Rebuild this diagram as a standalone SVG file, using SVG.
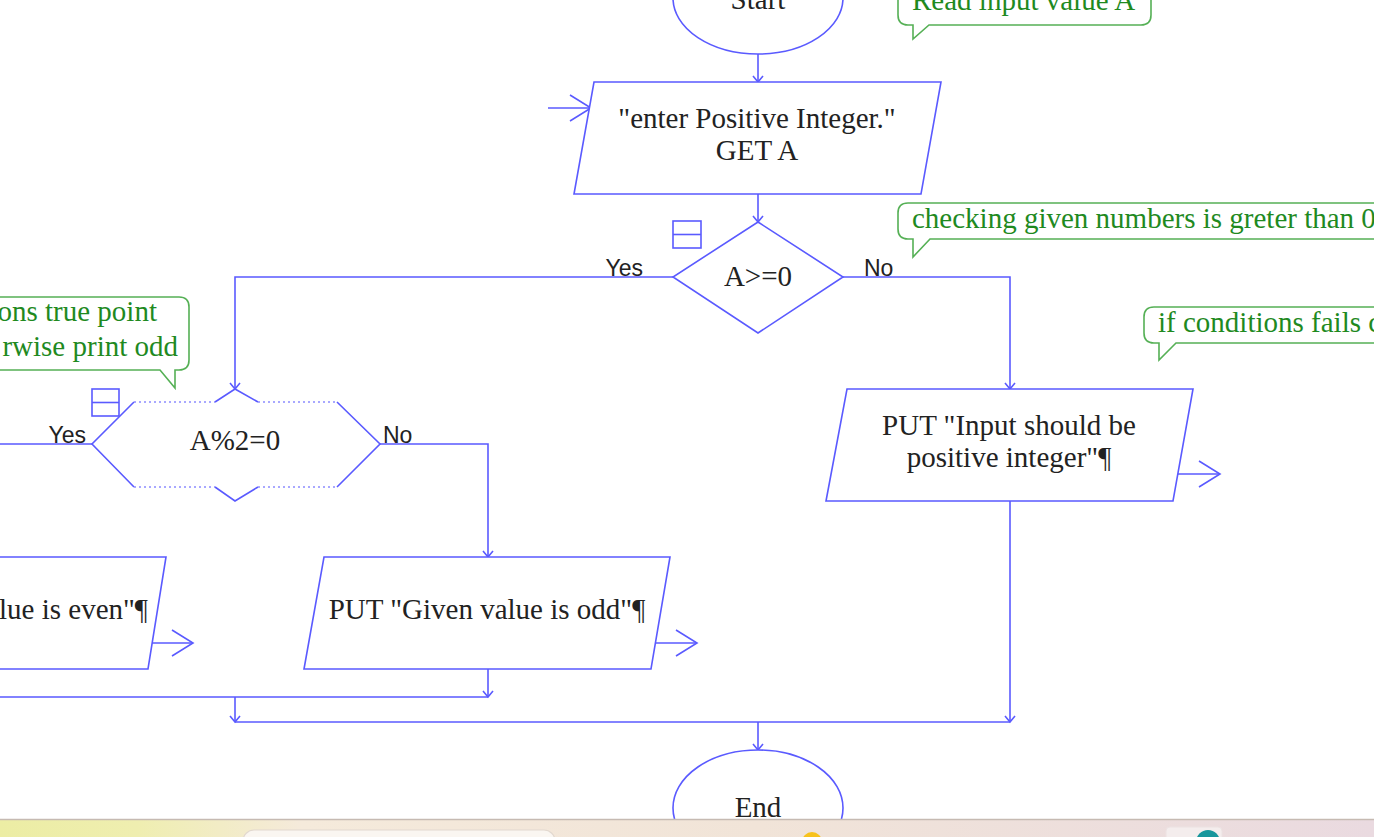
<svg xmlns="http://www.w3.org/2000/svg" width="1374" height="837" viewBox="0 0 1374 837">
<defs>
<style>
.ln{fill:none;stroke:#5a5aff;stroke-width:1.6}
.sh{fill:#fff;stroke:#5a5aff;stroke-width:1.6}
.dot{fill:none;stroke:#8c8cff;stroke-width:1.4;stroke-dasharray:2 3}
.t{font-family:"Liberation Serif","Times New Roman",serif;font-size:29px;fill:#222}
.lb{font-family:"Liberation Sans",Arial,sans-serif;font-size:23px;fill:#222}
.ct{font-family:"Liberation Serif","Times New Roman",serif;font-size:29px;fill:#1f8a1f}
.cb{fill:#fff;stroke:#55b055;stroke-width:1.6}
</style>
<marker id="ah" markerUnits="userSpaceOnUse" markerWidth="16" markerHeight="16" refX="8" refY="8" orient="auto" overflow="visible">
<path d="M2,3 L8,8 L2,13" fill="none" stroke="#5a5aff" stroke-width="1.6"/>
</marker>
<marker id="big" markerUnits="userSpaceOnUse" markerWidth="30" markerHeight="30" refX="24" refY="15" orient="auto" overflow="visible">
<path d="M3,2 L24,15 L3,28" fill="none" stroke="#5a5aff" stroke-width="1.6"/>
</marker>
<linearGradient id="tb" x1="0" y1="0" x2="1" y2="0">
<stop offset="0" stop-color="#eceda4"/>
<stop offset="0.1" stop-color="#efeeb0"/>
<stop offset="0.22" stop-color="#f5eadb"/>
<stop offset="0.55" stop-color="#f1e4d8"/>
<stop offset="1" stop-color="#eadae0"/>
</linearGradient>
</defs>
<rect width="1374" height="837" fill="#fff"/>

<g id="connectors">
<path class="ln" d="M758,54 V82" marker-end="url(#ah)"/>
<path class="ln" d="M758,194 V222" marker-end="url(#ah)"/>
<path class="ln" d="M673,277 H235 V389" marker-end="url(#ah)"/>
<path class="ln" d="M843,277 H1010 V389" marker-end="url(#ah)"/>
<path class="ln" d="M92,444 H-17 V557" marker-end="url(#ah)"/>
<path class="ln" d="M380,444 H488 V557" marker-end="url(#ah)"/>
<path class="ln" d="M488,669 V697" marker-end="url(#ah)"/>
<path class="ln" d="M-17,669 V697 H488"/>
<path class="ln" d="M235,697 V722" marker-end="url(#ah)"/>
<path class="ln" d="M1010,501 V722" marker-end="url(#ah)"/>
<path class="ln" d="M235,722 H1010"/>
<path class="ln" d="M758,722 V750" marker-end="url(#ah)"/>
<path class="ln" d="M548,108 H591" marker-end="url(#big)"/>
<path class="ln" d="M151,643 H193" marker-end="url(#big)"/>
<path class="ln" d="M655,643 H697" marker-end="url(#big)"/>
<path class="ln" d="M1175,474 H1220" marker-end="url(#big)"/>
<text class="lb" x="643" y="276" text-anchor="end">Yes</text>
<text class="lb" x="864" y="276">No</text>
<text class="lb" x="86" y="443" text-anchor="end">Yes</text>
<text class="lb" x="383" y="443">No</text>
</g>

<g id="start">
<ellipse class="sh" cx="758" cy="-2" rx="85" ry="56"/>
<text class="t" x="758" y="9" text-anchor="middle">Start</text>
</g>

<g id="input">
<polygon class="sh" points="594,82 941,82 921,194 574,194"/>
<text class="t" x="757" y="128" text-anchor="middle">"enter Positive Integer."</text>
<text class="t" x="757" y="160" text-anchor="middle">GET A</text>
</g>

<g id="decision1">
<polygon class="sh" points="758,222 843,277 758,333 673,277"/>
<text class="t" x="758" y="286" text-anchor="middle">A&gt;=0</text>
<rect class="ln" x="673" y="221" width="28" height="27"/>
<line class="ln" x1="673" y1="234.5" x2="701" y2="234.5"/>
</g>

<g id="decision2">
<polygon fill="#fff" points="92,444 134,402 337,402 380,444 337,487 134,487"/>
<path class="ln" d="M134,402 L92,444 L134,487 M215,402 L235,389 L258,402 M337,402 L380,444 L337,487 M215,487 L235,501 L258,487"/>
<path class="dot" d="M134,402 H215 M258,402 H337 M134,487 H215 M258,487 H337"/>
<text class="t" x="235" y="450" text-anchor="middle">A%2=0</text>
<rect class="ln" x="92" y="389" width="27" height="27"/>
<line class="ln" x1="92" y1="402.5" x2="119" y2="402.5"/>
</g>

<g id="even">
<polygon class="sh" points="-180,557 166,557 148,669 -199,669"/>
<text class="t" x="148" y="619" text-anchor="end">PUT "Given value is even"¶</text>
</g>

<g id="odd">
<polygon class="sh" points="324,557 670,557 651,669 304,669"/>
<text class="t" x="487" y="619" text-anchor="middle">PUT "Given value is odd"¶</text>
</g>

<g id="invalid">
<polygon class="sh" points="847,389 1193,389 1173,501 826,501"/>
<text class="t" x="1009" y="435" text-anchor="middle">PUT "Input should be</text>
<text class="t" x="1009" y="467" text-anchor="middle">positive integer"¶</text>
</g>

<g id="end">
<ellipse class="sh" cx="758" cy="808" rx="85" ry="58"/>
<text class="t" x="758" y="817" text-anchor="middle">End</text>
</g>

<g id="comment-read">
<path class="cb" d="M908,-20 H1141 Q1151,-20 1151,-10 V15 Q1151,25 1141,25 H929 L913,39 V25 H908 Q898,25 898,15 V-10 Q898,-20 908,-20 Z"/>
<text class="ct" x="912" y="10">Read input value A</text>
</g>

<g id="comment-check">
<path class="cb" d="M908,203 H1400 V239 H930 L913,257 V239 H908 Q898,239 898,229 V213 Q898,203 908,203 Z"/>
<text class="ct" x="912" y="228">checking given numbers is greter than 0</text>
</g>

<g id="comment-fail">
<path class="cb" d="M1154,307 H1400 V343 H1176 L1159,360 V343 H1154 Q1144,343 1144,333 V317 Q1144,307 1154,307 Z"/>
<text class="ct" x="1158" y="332">if conditions fails c</text>
</g>

<g id="comment-even">
<path class="cb" d="M-100,297 H179 Q189,297 189,307 V360 Q189,370 179,370 H175 V388 L160,370 H-100 Z"/>
<text class="ct" x="157" y="321" text-anchor="end">ons true point</text>
<text class="ct" x="178" y="356" text-anchor="end">rwise print odd</text>
</g>

<g id="taskbar">
<rect x="0" y="819" width="1374" height="18" fill="url(#tb)"/>
<line x1="0" y1="819.5" x2="1374" y2="819.5" stroke="#c6bab2" stroke-width="1.5"/>
<rect x="243" y="830" width="312" height="24" rx="11" fill="#faf6f1" stroke="#e2d8cf" stroke-width="1.2"/>
<circle cx="812" cy="842" r="10" fill="#f7c21b"/>
<rect x="1166" y="827" width="56" height="24" rx="4" fill="#f4eded" stroke="#ece2e2"/>
<circle cx="1208" cy="842" r="12" fill="#17969c"/>
</g>
</svg>
